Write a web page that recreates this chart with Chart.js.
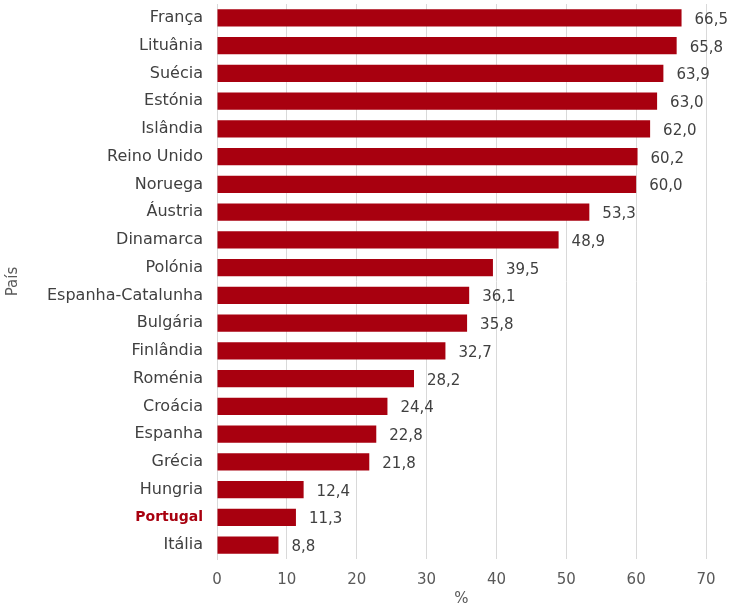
<!DOCTYPE html>
<html>
<head>
<meta charset="utf-8">
<script src="https://cdn.jsdelivr.net/npm/chart.js@4/dist/chart.umd.min.js"></script>
<style>
  body { margin: 0; background: #fff; }
  #wrap { width: 732px; height: 610px; }
</style>
</head>
<body>
<div id="wrap"><canvas id="paises"></canvas></div>
<script>
const countries = ['França', 'Lituânia', 'Suécia', 'Estónia', 'Islândia', 'Reino Unido', 'Noruega',
  'Áustria', 'Dinamarca', 'Polónia', 'Espanha-Catalunha', 'Bulgária', 'Finlândia', 'Roménia',
  'Croácia', 'Espanha', 'Grécia', 'Hungria', 'Portugal', 'Itália'];
const values = [66.5, 65.8, 63.9, 63.0, 62.0, 60.2, 60.0, 53.3, 48.9, 39.5, 36.1, 35.8, 32.7, 28.2,
  24.4, 22.8, 21.8, 12.4, 11.3, 8.8];
const xTicks = [0, 10, 20, 30, 40, 50, 60, 70];

const FONT = "'DejaVu Sans', sans-serif";
const RED = '#A8000F';
const TEXT = '#404040';

// value labels at the end of each bar
const barLabels = {
  id: 'barLabels',
  afterDatasetsDraw(chart) {
    const ctx = chart.ctx;
    const meta = chart.getDatasetMeta(0);
    ctx.save();
    ctx.font = '15px ' + FONT;
    ctx.fillStyle = TEXT;
    ctx.textAlign = 'left';
    ctx.textBaseline = 'middle';
    meta.data.forEach((bar, i) => {
      const txt = values[i].toFixed(1).replace('.', ',');
      ctx.fillText(txt, bar.x + 13, bar.y + 2);
    });
    ctx.restore();
  }
};

new Chart(document.getElementById('paises'), {
  type: 'bar',
  data: {
    labels: countries,
    datasets: [{
      data: values,
      backgroundColor: RED,
      barPercentage: 0.62,
      categoryPercentage: 1
    }]
  },
  options: {
    indexAxis: 'y',
    responsive: true,
    maintainAspectRatio: false,
    animation: false,
    layout: { padding: { top: 4, right: 26, bottom: 2, left: 0 } },
    plugins: {
      legend: { display: false },
      tooltip: { enabled: false }
    },
    scales: {
      x: {
        min: 0,
        max: 70,
        afterBuildTicks: (scale) => { scale.ticks = xTicks.map(v => ({ value: v })); },
        afterFit: (scale) => { scale.height = 49; },
        grid: { color: '#d9d9d9', drawTicks: false },
        border: { display: false },
        ticks: { color: '#595959', font: { family: FONT, size: 15 }, padding: 12 },
        title: {
          display: true,
          text: '%',
          color: '#595959',
          font: { family: FONT, size: 15 },
          padding: { top: 0, bottom: 0 }
        }
      },
      y: {
        grid: { display: false, drawTicks: false },
        border: { display: true, color: '#d9d9d9' },
        afterFit: (scale) => {
          scale.width = 217;
          scale.paddingTop = 0;
          scale.paddingBottom = 0;
        },
        ticks: {
          padding: 14,
          color: (c) => countries[c.index] === 'Portugal' ? RED : TEXT,
          font: (c) => countries[c.index] === 'Portugal'
            ? { family: FONT, size: 14, weight: 'bold' }
            : { family: FONT, size: 16 }
        },
        title: {
          display: true,
          text: 'País',
          color: '#595959',
          font: { family: FONT, size: 15 },
          padding: { top: 4, bottom: 0 }
        }
      }
    }
  },
  plugins: [barLabels]
});
</script>
</body>
</html>
